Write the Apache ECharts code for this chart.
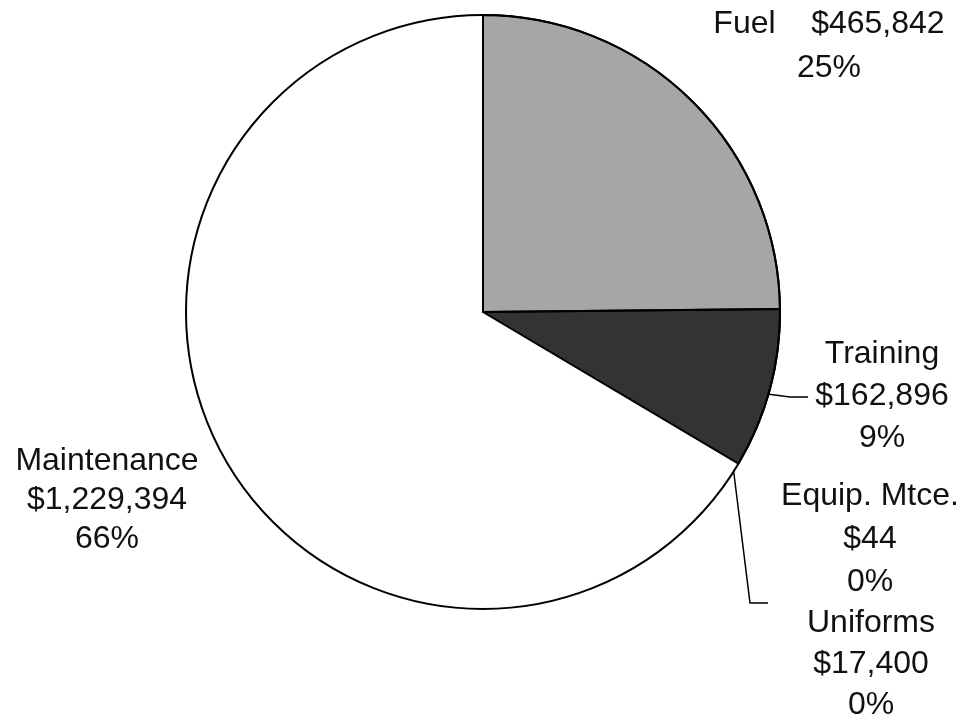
<!DOCTYPE html>
<html>
<head>
<meta charset="utf-8">
<script src="https://cdn.jsdelivr.net/npm/echarts@6/dist/echarts.min.js"></script>
<style>
  html, body { margin: 0; padding: 0; background: #fff; }
  #chart { width: 970px; height: 724px; }
</style>
</head>
<body>
<div id="chart"></div>
<script>
// data (clockwise from 12 o'clock)
var categories = ["Fuel", "Training", "Equip. Mtce.", "Uniforms", "Maintenance"];
var amounts = [465842, 162896, 44, 17400, 1229394];
var pctLabels = ["25%", "9%", "0%", "0%", "66%"];
var sliceColors = ["#a6a6a6", "#333333", "#ffffff", "#ffffff", "#ffffff"];
// which slices get their own black outline (the tiny ones do not show one)
var outlined = [true, true, false, false, false];

// label placement (centre x, top y, line height) and leader lines
var labelPos = [
  { x: 829, y: 2, lh: 44 },
  { x: 882, y: 333, lh: 42 },
  { x: 870, y: 475, lh: 43 },
  { x: 871, y: 603, lh: 41 },
  { x: 107, y: 442, lh: 39 }
];
var leaders = {
  1: [[767, 394], [790, 397], [808, 397]],
  3: [[733, 466], [750, 603], [768, 603]]
};

function money(v) {
  return "$" + v.toString().replace(/\B(?=(\d{3})+(?!\d))/g, ",");
}

var myChart = echarts.init(document.getElementById("chart"));

var fillData = [];
var edgeData = [];
for (let i = 0; i < categories.length; i++) {
  fillData.push({
    name: categories[i],
    value: amounts[i],
    itemStyle: { color: sliceColors[i] },
    label: { lineHeight: labelPos[i].lh },
    labelLine: { show: leaders[i] ? true : false }
  });
  edgeData.push({
    name: categories[i],
    value: amounts[i],
    itemStyle: {
      color: "rgba(0,0,0,0)",
      borderColor: outlined[i] ? "#000" : "rgba(0,0,0,0)",
      borderWidth: outlined[i] ? 2 : 0
    }
  });
}

var total = 0;
for (let i = 0; i < amounts.length; i++) total += amounts[i];

myChart.setOption({
  animation: false,
  series: [
    {
      type: "pie",
      center: [483, 312],
      radius: 297,
      startAngle: 90,
      clockwise: true,
      avoidLabelOverlap: false,
      data: fillData,
      itemStyle: { borderWidth: 0 },
      label: {
        show: true,
        position: "outside",
        color: "#111",
        fontFamily: "Liberation Sans, Arial, sans-serif",
        fontSize: 32,
        align: "center",
        formatter: function (p) {
          var i = p.dataIndex;
          if (i === 0) {
            return categories[i] + "    " + money(amounts[i]) + "\n" + pctLabels[i];
          }
          return categories[i] + "\n" + money(amounts[i]) + "\n" + pctLabels[i];
        }
      },
      labelLine: {
        lineStyle: { color: "#000", width: 1.5 }
      },
      labelLayout: function (params) {
        var i = params.dataIndex;
        var out = {
          x: labelPos[i].x,
          y: labelPos[i].y,
          align: "center",
          verticalAlign: "top"
        };
        if (leaders[i]) out.labelLinePoints = leaders[i];
        return out;
      }
    },
    {
      // slice edges on top of the fills
      type: "pie",
      silent: true,
      center: [483, 312],
      radius: 297,
      startAngle: 90,
      clockwise: true,
      label: { show: false },
      labelLine: { show: false },
      data: edgeData
    },
    {
      // outer circle
      type: "pie",
      silent: true,
      center: [483, 312],
      radius: 297,
      label: { show: false },
      labelLine: { show: false },
      itemStyle: { color: "rgba(0,0,0,0)", borderColor: "#000", borderWidth: 2 },
      data: [{ name: "total", value: total }]
    }
  ]
});
</script>
</body>
</html>
